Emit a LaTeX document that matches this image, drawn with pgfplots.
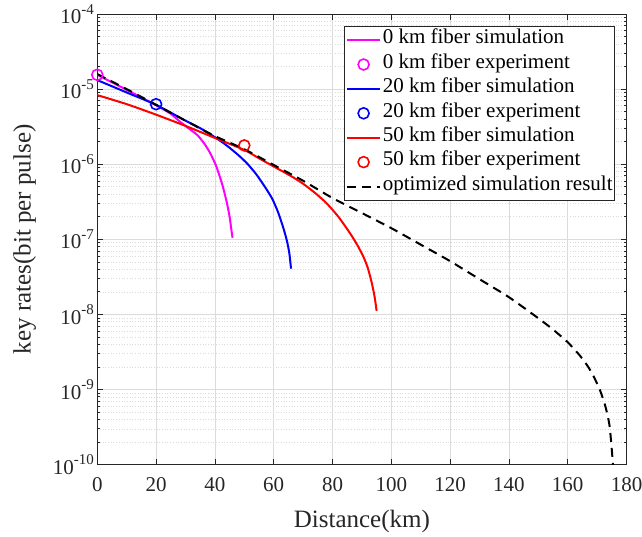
\documentclass[border=0pt]{standalone}
\usepackage{fontspec}
\setmainfont{Liberation Serif}
\usepackage{pgfplots}
\pgfplotsset{compat=1.18}
\definecolor{axgray}{rgb}{0.15,0.15,0.15}
\definecolor{gridgray}{rgb}{0.86,0.86,0.86}
\definecolor{mmag}{rgb}{1,0,1}
\definecolor{mblue}{rgb}{0,0,1}
\definecolor{mred}{rgb}{1,0,0}
\begin{document}
\begin{tikzpicture}
\begin{axis}[
  name=ax,
  scale only axis, width=529.2pt, height=450.7pt,
  xmin=0, xmax=180, ymode=log, ymin=1e-10, ymax=1e-4,
  xtick={0,20,...,180},
  /pgf/number format/assume math mode=true,
  axis line style={axgray, line width=0.8pt},
  tick style={axgray, line width=0.8pt},
  major tick length=6pt, minor tick length=3pt,
  tick align=inside,
  grid=both,
  major grid style={gridgray, line width=0.8pt},
  minor grid style={gridgray, line width=0.7pt, dotted},
  ticklabel style={font=\fontsize{21}{24}\selectfont, text=axgray},
  xticklabel style={yshift=-9pt},
  yticklabel={\pgfmathparse{int(round(\tick/2.302585093))}10\raisebox{0.45em}{\fontsize{15}{15}\selectfont\pgfmathresult}},
  xlabel={Distance(km)},
  ylabel={key rates(bit per pulse)},
  xlabel style={yshift=-12pt},
  ylabel style={yshift=10pt},
  label style={font=\fontsize{25}{28}\selectfont, text=axgray},
  legend style={font=\fontsize{21}{24}\selectfont, at={(1,1)}, anchor=north east,
    xshift=-11.5pt, yshift=-12pt, draw=axgray, line width=0.8pt,
    inner xsep=2pt, inner ysep=1.5pt, row sep=0pt, column sep=1.7pt,
    nodes={inner sep=0pt, text height=16pt, text depth=8.4pt}},
  legend cell align=left,
]
\pgfplotsset{
  linelegend/.style={legend image code/.code={\draw[##1, mark=none] (0pt,0pt) -- (33pt,0pt);}},
  marklegend/.style={legend image code/.code={\draw[##1] plot coordinates {(16.5pt,0pt)};}},
}
\addplot[mmag, line width=2pt, smooth, tension=0.4, linelegend] coordinates {
(0,1.549e-5)(10,9.77e-6)(20,6.10e-6)(25,4.68e-6)(28,3.72e-6)(31,3.02e-6)(34,2.45e-6)(36.5,1.86e-6)(38.5,1.38e-6)(40.5,9.33e-7)(42.5,5.37e-7)(44,3.16e-7)(45,2.00e-7)(45.7,1.26e-7)(46,1.05e-7)};
\addlegendentry{0 km fiber simulation}
\addplot[mmag, only marks, mark=o, mark size=5.5pt, line width=1.6pt, marklegend] coordinates {(0,1.55e-5)};
\addlegendentry{0 km fiber experiment}
\addplot[mblue, line width=2pt, smooth, tension=0.4, linelegend] coordinates {
(0,1.318e-5)(10,9.02e-6)(20,6.17e-6)(30,3.80e-6)(35,3.02e-6)(40,2.29e-6)(44,1.78e-6)(48,1.32e-6)(51,1.02e-6)(54,7.41e-7)(57,5.01e-7)(59.5,3.47e-7)(61.5,2.29e-7)(63.3,1.41e-7)(64.5,9.55e-8)(65.3,6.61e-8)(65.9,4.07e-8)};
\addlegendentry{20 km fiber simulation}
\addplot[mblue, only marks, mark=o, mark size=5.5pt, line width=1.6pt, marklegend] coordinates {(20,6.3e-6)};
\addlegendentry{20 km fiber experiment}
\addplot[mred, line width=2pt, smooth, tension=0.4, linelegend] coordinates {
(0,8.32e-6)(10,6.31e-6)(20,4.57e-6)(30,3.24e-6)(40,2.24e-6)(50,1.55e-6)(55,1.20e-6)(60,9.33e-7)(66,6.92e-7)(70,5.50e-7)(74,4.17e-7)(78,3.02e-7)(82,2.00e-7)(86,1.20e-7)(88.5,8.32e-8)(90.5,5.89e-8)(92,4.17e-8)(93.3,2.69e-8)(94.3,1.74e-8)(95,1.12e-8)};
\addlegendentry{50 km fiber simulation}
\addplot[mred, only marks, mark=o, mark size=5.5pt, line width=1.6pt, marklegend] coordinates {(50,1.78e-6)};
\addlegendentry{50 km fiber experiment}
\addplot[black, line width=2pt, dash pattern=on 9pt off 6pt, smooth, tension=0.4, linelegend] coordinates {
(0,1.585e-5)(10,1.00e-5)(20,6.17e-6)(30,3.80e-6)(40,2.37e-6)(50,1.585e-6)(60,9.77e-7)(70,6.03e-7)(80,3.55e-7)(90,2.24e-7)(100,1.41e-7)(110,8.51e-8)(120,5.13e-8)(130,2.95e-8)(140,1.70e-8)(150,8.91e-9)(155,6.31e-9)(160,4.27e-9)(164,2.88e-9)(167,2.00e-9)(169,1.45e-9)(171,9.77e-10)(172.5,6.61e-10)(173.5,4.68e-10)(174.3,3.16e-10)(175,1.58e-10)(175.3,1.12e-10)(175.5,8.91e-11)};
\addlegendentry{optimized simulation result}
\end{axis}
\pgfresetboundingbox
\path[use as bounding box] ([shift={(-97.3pt,-72.3pt)}]ax.south west) rectangle ([shift={(15.5pt,14pt)}]ax.north east);
\end{tikzpicture}
\end{document}
